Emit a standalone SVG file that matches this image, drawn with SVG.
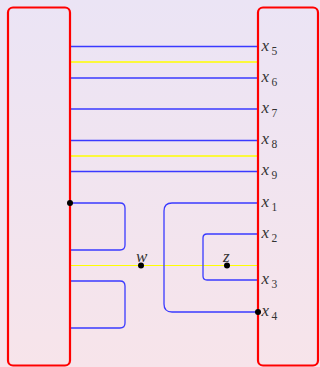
<svg xmlns="http://www.w3.org/2000/svg" width="320" height="367" viewBox="0 0 320 367">
<defs>
<linearGradient id="bg" x1="0" y1="0" x2="0" y2="1">
<stop offset="0" stop-color="#ebe4f5"/>
<stop offset="1" stop-color="#f7e4ea"/>
</linearGradient>
<style>
.box{fill:none;stroke:#ff0000;stroke-width:2.2}
.bl{fill:none;stroke:#3a3aff;stroke-width:1.3}
.yl{fill:none;stroke:#ffff00;stroke-width:1.7}
.yt{fill:none;stroke:#ffff00;stroke-width:1.2}
.lab{font-family:"Liberation Serif",serif;font-style:italic;font-size:17px;fill:#333}
.sub{font-family:"Liberation Serif",serif;font-size:11.5px;fill:#333}
.dot{fill:#000}
</style>
</defs>
<rect width="320" height="367" fill="url(#bg)"/>
<g id="connectors">
<line class="bl" x1="70" y1="46.5" x2="258" y2="46.5"/>
<line class="yl" x1="70" y1="62" x2="258" y2="62"/>
<line class="bl" x1="70" y1="78" x2="258" y2="78"/>
<line class="bl" x1="70" y1="109" x2="258" y2="109"/>
<line class="bl" x1="70" y1="140.5" x2="258" y2="140.5"/>
<line class="yl" x1="70" y1="156" x2="258" y2="156"/>
<line class="bl" x1="70" y1="171.5" x2="258" y2="171.5"/>
<path class="bl" d="M70 203 H120 Q125 203 125 208 V245 Q125 250 120 250 H70"/>
<path class="bl" d="M70 281 H120 Q125 281 125 286 V323 Q125 328 120 328 H70"/>
<line class="yt" x1="70" y1="265.5" x2="258" y2="265.5"/>
<path class="bl" d="M258 203 H172 Q164 203 164 211 V304 Q164 312 172 312 H258"/>
<path class="bl" d="M258 234 H207 Q203 234 203 238 V276 Q203 280 207 280 H258"/>
</g>
<g id="left">
<rect class="box" x="8" y="7.5" width="62" height="358" rx="5"/>
<circle class="dot" cx="70" cy="203" r="3"/>
</g>
<g id="right">
<rect class="box" x="258" y="7.5" width="60" height="358" rx="5"/>
<circle class="dot" cx="258" cy="312" r="3"/>
</g>
<g id="w">
<circle class="dot" cx="141" cy="265.5" r="3"/>
<text class="lab" x="136" y="262">w</text>
</g>
<g id="z">
<circle class="dot" cx="227" cy="265.5" r="3"/>
<text class="lab" x="223" y="262">z</text>
</g>
<g id="labels">
<text class="lab" x="261.5" y="51">x</text><text class="sub" x="271.5" y="55">5</text>
<text class="lab" x="261.5" y="82">x</text><text class="sub" x="271.5" y="86">6</text>
<text class="lab" x="261.5" y="113">x</text><text class="sub" x="271.5" y="117">7</text>
<text class="lab" x="261.5" y="144">x</text><text class="sub" x="271.5" y="148">8</text>
<text class="lab" x="261.5" y="175">x</text><text class="sub" x="271.5" y="179">9</text>
<text class="lab" x="261.5" y="207">x</text><text class="sub" x="271.5" y="211">1</text>
<text class="lab" x="261.5" y="238">x</text><text class="sub" x="271.5" y="242">2</text>
<text class="lab" x="261.5" y="284">x</text><text class="sub" x="271.5" y="288">3</text>
<text class="lab" x="261.5" y="316">x</text><text class="sub" x="271.5" y="320">4</text>
</g>
</svg>
